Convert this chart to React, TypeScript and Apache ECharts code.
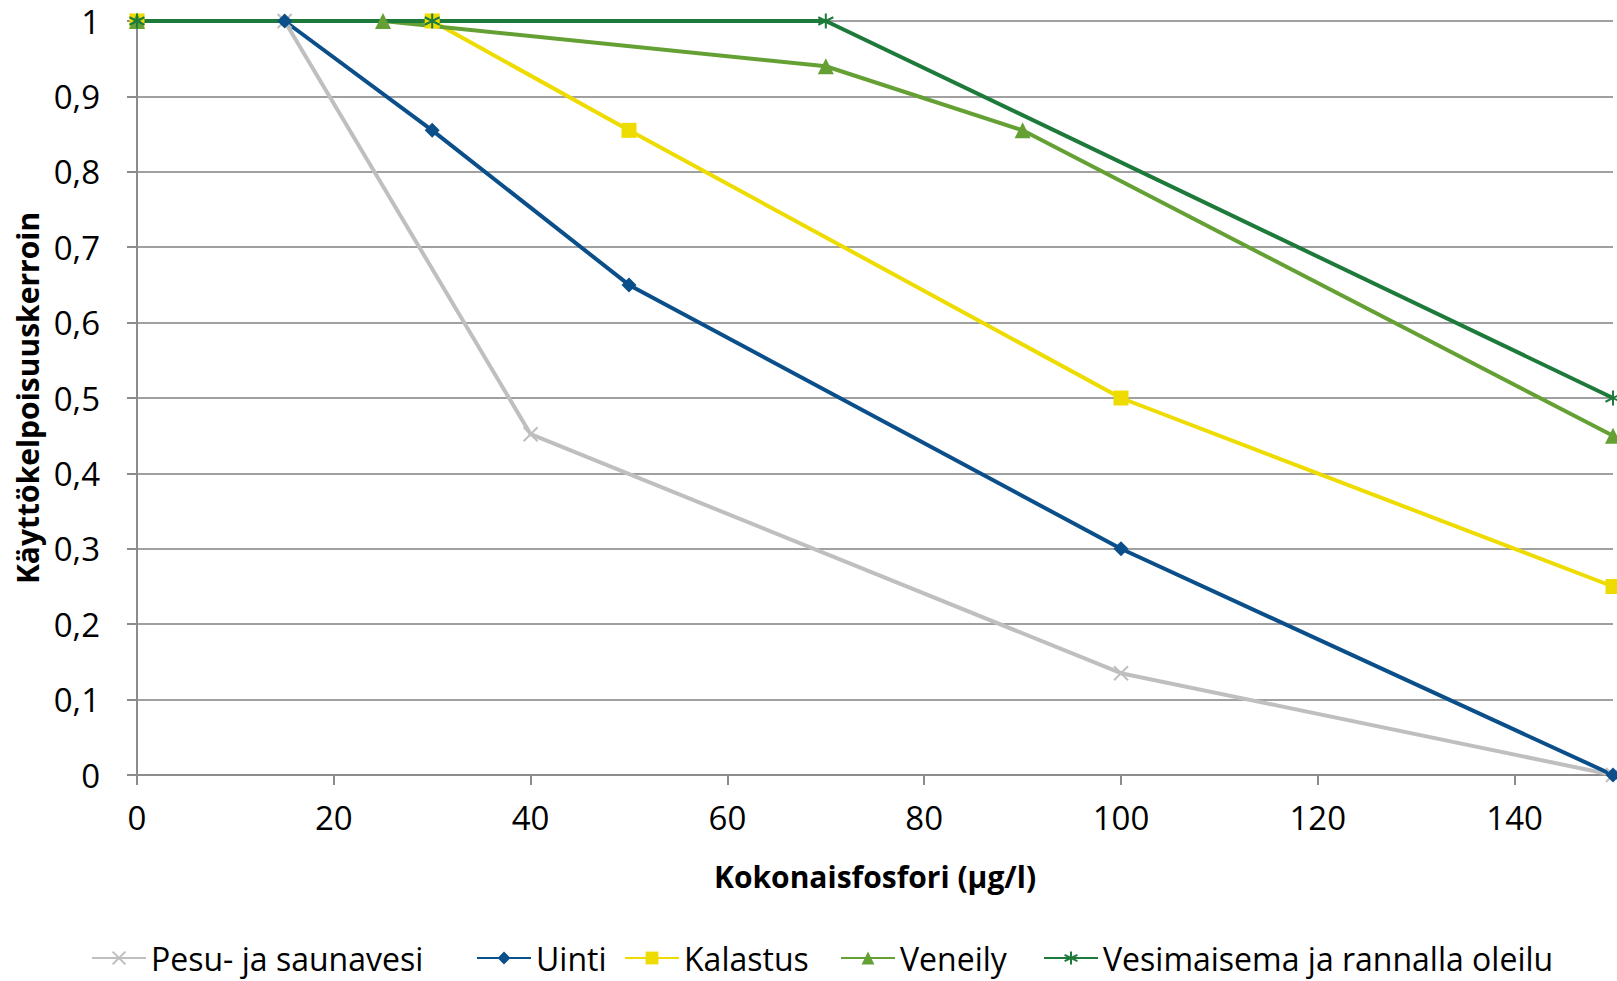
import React, { useEffect, useRef } from "react";
import * as echarts from "echarts";

const seriesNames = [
  "Pesu- ja saunavesi",
  "Uinti",
  "Kalastus",
  "Veneily",
  "Vesimaisema ja rannalla oleilu",
];

const pesuX = [0, 15, 40, 100, 150];
const pesuY = [1, 1, 0.452, 0.135, 0];

const uintiX = [0, 15, 30, 50, 100, 150];
const uintiY = [1, 1, 0.855, 0.65, 0.3, 0];

const kalastusX = [0, 30, 50, 100, 150];
const kalastusY = [1, 1, 0.855, 0.5, 0.25];

const veneilyX = [0, 25, 70, 90, 150];
const veneilyY = [1, 1, 0.94, 0.855, 0.45];

const vesimaisemaX = [0, 30, 70, 150];
const vesimaisemaY = [1, 1, 1, 0.5];

const colors = ["#BFBFBF", "#0B4F8A", "#EEDC00", "#65A034", "#1D7A3A"];

const legendLefts = [91, 476, 624, 840, 1043];

const FONT = "Open Sans";

const symbolX = "path://M0,0L10,10M10,0L0,10";
const symbolStar = "path://M5,0L5,10M0.8,2.5L9.2,7.5M9.2,2.5L0.8,7.5";

function pairs(xs: number[], ys: number[]) {
  return xs.map((x, i) => [x, ys[i]]);
}

export default function App() {
  const ref = useRef<HTMLDivElement>(null);
  useEffect(() => {
    if (!ref.current) return;
    const chart = echarts.init(ref.current, null, { renderer: "svg" });
    const datas = [
      pairs(pesuX, pesuY),
      pairs(uintiX, uintiY),
      pairs(kalastusX, kalastusY),
      pairs(veneilyX, veneilyY),
      pairs(vesimaisemaX, vesimaisemaY),
    ];
    const symbols = [symbolX, "diamond", "rect", "triangle", symbolStar];
    const sizes = [14, 15, 15, 16, 15];
    const series = datas.map((d, i) => ({
      name: seriesNames[i],
      type: "line",
      data: d,
      symbol: symbols[i],
      symbolSize: sizes[i],
      showSymbol: true,
      lineStyle: { color: colors[i], width: 4 },
      itemStyle:
        i === 0 || i === 4
          ? { color: colors[i], borderColor: colors[i], borderWidth: 2 }
          : { color: colors[i], borderWidth: 0 },
      emphasis: { disabled: true },
    }));
    const legends = seriesNames.map((n, i) => ({
      data: [n],
      left: legendLefts[i],
      top: 942,
      padding: 0,
      itemWidth: 54,
      itemHeight: 16,
      selectedMode: false,
      textStyle: { fontFamily: FONT, fontSize: 32, color: "#000" },
    }));
    chart.setOption({
      animation: false,
      backgroundColor: "#ffffff",
      grid: { left: 137, right: 4, top: 21, bottom: 206, containLabel: false },
      legend: legends,
      xAxis: {
        type: "value",
        min: 0,
        max: 150,
        interval: 20,
        name: "Kokonaisfosfori (µg/l)",
        nameLocation: "middle",
        nameGap: 86,
        nameTextStyle: { fontFamily: FONT, fontSize: 30, fontWeight: "bold", color: "#000" },
        axisLine: { show: true, lineStyle: { color: "#8C8C8C", width: 2 } },
        axisTick: { show: true, length: 10, lineStyle: { color: "#8C8C8C", width: 2 } },
        splitLine: { show: false },
        axisLabel: {
          fontFamily: FONT,
          fontSize: 33,
          color: "#000",
          margin: 26,
          showMaxLabel: false,
          formatter: (v: number) => (v === 150 ? "" : String(v)),
        },
      },
      yAxis: {
        type: "value",
        min: 0,
        max: 1,
        interval: 0.1,
        name: "Käyttökelpoisuuskerroin",
        nameLocation: "middle",
        nameGap: 95,
        nameTextStyle: { fontFamily: FONT, fontSize: 30, fontWeight: "bold", color: "#000" },
        axisLine: { show: true, lineStyle: { color: "#8C8C8C", width: 2 } },
        axisTick: { show: true, length: 10, lineStyle: { color: "#8C8C8C", width: 2 } },
        splitLine: { show: true, lineStyle: { color: "#A0A0A0", width: 2 } },
        axisLabel: {
          fontFamily: FONT,
          fontSize: 33,
          color: "#000",
          margin: 37,
          formatter: (v: number) => String(Number(v.toFixed(1))).replace(".", ","),
        },
      },
      series,
    });
    return () => chart.dispose();
  }, []);
  return (
    <div
      ref={ref}
      style={{ position: "fixed", left: 0, top: 0, width: 1617, height: 981, background: "#fff" }}
    />
  );
}
